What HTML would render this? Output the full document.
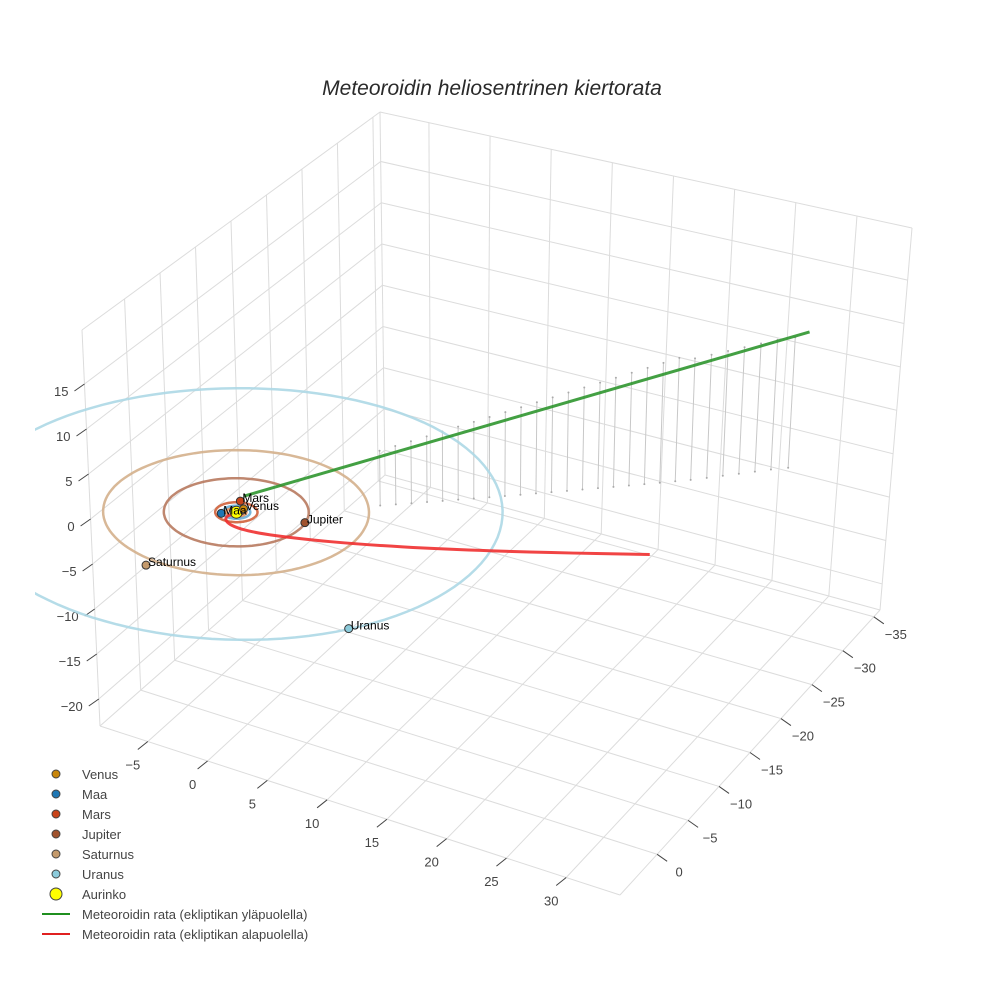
<!DOCTYPE html>
<html><head><meta charset="utf-8">
<style>
html,body{margin:0;padding:0;background:#fff;}
svg{display:block;font-family:"Liberation Sans",Arial,sans-serif;}
</style></head>
<body>
<svg id="chart" width="984" height="984" viewBox="0 0 984 984">
  <text x="492" y="95" text-anchor="middle" font-size="21" font-style="italic" fill="#2a2a2a">Meteoroidin heliosentrinen kiertorata</text>
  <defs><clipPath id="sc"><rect x="35" y="40" width="930" height="940"/></clipPath></defs>
  <g id="grid"></g>
  <g id="axes"></g>
  <g clip-path="url(#sc)"><g id="marks" transform="translate(-5,-3)"></g></g>
  <g id="legend"></g>
</svg>
<script>
// ---- data ----
const xTicks=[-5,0,5,10,15,20,25,30];
const yTicks=[-35,-30,-25,-20,-15,-10,-5,0];
const zTicks=[-20,-15,-10,-5,0,5,10,15];
const planetNames=["Venus","Maa","Mars","Jupiter","Saturnus","Uranus"];
const planetX=[0.2,-0.85,-0.59,5.05,-1.6,15.5];
const planetY=[-0.7,0.7,-1.62,-1.07,10.3,11.2];
const planetZ=[0,0,0,0,0,0];
const orbitR=[0.72,1.0,1.52,5.2,9.54,19.2];
const planetColors=["#c8860b","#1f77b4","#c8441a","#a0522d","#c49a6c","#8ccbdb"];
const orbitColors=["#e8905a","#6aaed6","#d0603a","#b87a5f","#d4b08c","#add8e6"];
const greenX=[0.3,32.5];
const greenY=[-0.6,-26];
const greenZ=[1.5,14.5];
const redX=[0,-0.6,0.2,2,5,9,14,20,26.5];
const redY=[0,0.8,1.3,1.0,-0.3,-2.4,-5.5,-9.5,-14];
const redZ=[0,-0.3,-0.6,-0.9,-1.3,-1.8,-2.5,-3.3,-4.2];
const dropX=[8.5,9.4,10.3,11.2,12.1,13.0,13.9,14.8,15.7,16.6,17.5,18.4,19.3,20.2,21.1,22.0,22.9,23.8,24.7,25.6,26.5,27.4,28.3,29.2,30.1,31.0,32.0];
const dropY=[-6.0,-6.7,-7.4,-8.1,-8.8,-9.5,-10.2,-10.9,-11.6,-12.3,-13.0,-13.7,-14.4,-15.1,-15.8,-16.5,-17.2,-17.9,-18.6,-19.3,-20.0,-20.8,-21.6,-22.4,-23.2,-24.0,-24.8];
const dropZ=[6.0,6.4,6.8,7.2,7.6,8.0,8.4,8.8,9.2,9.6,10.0,10.4,10.8,11.2,11.6,12.0,12.4,12.8,13.2,13.6,13.4,13.6,13.8,14.0,14.2,14.4,14.5];
// ---- projection (trilinear between box corners) ----
const XR=[-9,34.5],YR=[-36,6],ZR=[-23,21];
const B00=[385,475],B10=[880,610],B01=[100,726],B11=[620,895];
const T00=[380,112],T10=[912,228],T01=[82,330],T11=[620,455];
function lerp(a,b,t){return [a[0]+(b[0]-a[0])*t,a[1]+(b[1]-a[1])*t];}
function P(x,y,z){
  const u=(x-XR[0])/(XR[1]-XR[0]),v=(y-YR[0])/(YR[1]-YR[0]),w=(z-ZR[0])/(ZR[1]-ZR[0]);
  const b=lerp(lerp(B00,B10,u),lerp(B01,B11,u),v);
  const t=lerp(lerp(T00,T10,u),lerp(T01,T11,u),v);
  return lerp(b,t,w);
}
const NS="http://www.w3.org/2000/svg";
function mk(tag,attrs,parent){const e=document.createElementNS(NS,tag);for(const k in attrs)e.setAttribute(k,attrs[k]);parent.appendChild(e);return e;}
const grid=document.getElementById('grid'),axes=document.getElementById('axes'),marks=document.getElementById('marks'),legend=document.getElementById('legend');
function line3(a,b,attrs,parent){const p=P(...a),q=P(...b);return mk('line',Object.assign({x1:p[0],y1:p[1],x2:q[0],y2:q[1]},attrs),parent);}
const gs={stroke:"#dcdcdc","stroke-width":1};
[[[XR[0],YR[0],ZR[0]],[XR[1],YR[0],ZR[0]]],[[XR[0],YR[0],ZR[0]],[XR[0],YR[1],ZR[0]]],[[XR[0],YR[0],ZR[0]],[XR[0],YR[0],ZR[1]]],
 [[XR[0],YR[1],ZR[0]],[XR[1],YR[1],ZR[0]]],[[XR[1],YR[0],ZR[0]],[XR[1],YR[1],ZR[0]]],[[XR[0],YR[1],ZR[0]],[XR[0],YR[1],ZR[1]]],
 [[XR[1],YR[0],ZR[0]],[XR[1],YR[0],ZR[1]]],[[XR[0],YR[0],ZR[1]],[XR[1],YR[0],ZR[1]]],[[XR[0],YR[0],ZR[1]],[XR[0],YR[1],ZR[1]]]].forEach(e=>{
  const l=line3(e[0],e[1],gs,grid);
  
  
});
xTicks.forEach(x=>{
  const a=line3([x,YR[0],ZR[0]],[x,YR[1],ZR[0]],gs,grid);
  
  
  const b=line3([x,YR[0],ZR[0]],[x,YR[0],ZR[1]],gs,grid);
  
  
  const p=P(x,YR[1],ZR[0]);
  const t=mk('line',{x1:p[0],y1:p[1],x2:p[0]-10,y2:p[1]+8,stroke:"#444","stroke-width":1},axes);
  
  
  const lb=mk('text',{x:p[0]-15,y:p[1]+28,"text-anchor":"middle","font-size":13,fill:"#444"},axes);
  lb.textContent=String(x).replace('-','\u2212');
  
  
});
yTicks.forEach(y=>{
  const a=line3([XR[0],y,ZR[0]],[XR[1],y,ZR[0]],gs,grid);
  
  
  const b=line3([XR[0],y,ZR[0]],[XR[0],y,ZR[1]],gs,grid);
  
  
  const p=P(XR[1],y,ZR[0]);
  const t=mk('line',{x1:p[0],y1:p[1],x2:p[0]+10,y2:p[1]+7,stroke:"#444","stroke-width":1},axes);
  
  
  const lb=mk('text',{x:p[0]+22,y:p[1]+22,"text-anchor":"middle","font-size":13,fill:"#444"},axes);
  lb.textContent=String(y).replace('-','\u2212');
  
  
});
zTicks.forEach(z=>{
  const a=line3([XR[0],YR[0],z],[XR[1],YR[0],z],gs,grid);
  
  
  const b=line3([XR[0],YR[0],z],[XR[0],YR[1],z],gs,grid);
  
  
  const p=P(XR[0],YR[1],z);
  const t=mk('line',{x1:p[0],y1:p[1],x2:p[0]-10,y2:p[1]+7,stroke:"#444","stroke-width":1},axes);
  
  
  const lb=mk('text',{x:p[0]-16,y:p[1]+12,"text-anchor":"end","font-size":13,fill:"#444"},axes);
  lb.textContent=String(z).replace('-','\u2212');
  
  
});
dropX.forEach((x,i)=>{
  const a=P(x,dropY[i],dropZ[i]),b=P(x,dropY[i],0);
  const l=mk('line',{x1:a[0],y1:a[1],x2:b[0],y2:b[1],stroke:"#c8c8c8","stroke-width":1},marks);
  
  
  [a,b].forEach(p=>{
    const c=mk('circle',{cx:p[0],cy:p[1],r:1,fill:"#aaa"},marks);
    
    
  });
});
orbitR.forEach((r,i)=>{
  let d="";
  for(let k=0;k<=120;k++){const t=k/120*2*Math.PI;const p=P(r*Math.cos(t),r*Math.sin(t),0);d+=(k?"L":"M")+p[0].toFixed(1)+","+p[1].toFixed(1);}
  const o=mk('path',{d:d,fill:"none",stroke:orbitColors[i],"stroke-width":2.5,opacity:0.9},marks);
  
  
});
function pts(X,Y,Z){return X.map((x,i)=>P(x,Y[i],Z[i]));}
function smooth(p){let d="M"+p[0][0]+","+p[0][1];for(let i=1;i<p.length;i++){const a=p[i-1],b=p[i];const m=[(a[0]+b[0])/2,(a[1]+b[1])/2];d+=" Q"+a[0]+","+a[1]+" "+m[0]+","+m[1];}const l=p[p.length-1];d+=" L"+l[0]+","+l[1];return d;}
const g=mk('path',{d:smooth(pts(greenX,greenY,greenZ)),fill:"none",stroke:"#2f962f","stroke-width":3,opacity:0.9},marks);


const r=mk('path',{d:smooth(pts(redX,redY,redZ)),fill:"none",stroke:"#f03030","stroke-width":3,opacity:0.9,"stroke-linejoin":"round"},marks);


const sp=P(0,0,0);
const sun=mk('circle',{cx:sp[0],cy:sp[1],r:6,fill:"#ffff00",stroke:"#333","stroke-width":1},marks);


planetNames.forEach((n,i)=>{
  const p=P(planetX[i],planetY[i],planetZ[i]);
  const c=mk('circle',{cx:p[0],cy:p[1],r:4,fill:planetColors[i],stroke:"#333","stroke-width":1},marks);
  
  
  const t=mk('text',{x:p[0]+2,y:p[1]+1,"font-size":12,fill:"#000"},marks);
  t.textContent=n;
  
  
});
const legNames=["Venus","Maa","Mars","Jupiter","Saturnus","Uranus","Aurinko"];
const legColors=["#c8860b","#1f77b4","#c8441a","#a0522d","#c49a6c","#8ccbdb","#ffff00"];
legNames.forEach((n,i)=>{
  const y=774+i*20;
  const c=mk('circle',{cx:56,cy:y,r:i==6?6:4,fill:legColors[i],stroke:"#444","stroke-width":1},legend);
  
  
  const t=mk('text',{x:82,y:y+5,"font-size":13,fill:"#444"},legend);
  t.textContent=n;
  
  
});
[["Meteoroidin rata (ekliptikan yläpuolella)","#1f8f1f"],["Meteoroidin rata (ekliptikan alapuolella)","#e02020"]].forEach((e,i)=>{
  const y=914+i*20;
  const l=mk('line',{x1:42,y1:y,x2:70,y2:y,stroke:e[1],"stroke-width":2},legend);
  
  
  const t=mk('text',{x:82,y:y+5,"font-size":13,fill:"#444"},legend);
  t.textContent=e[0];
  
  
});
</script>
</body></html>
